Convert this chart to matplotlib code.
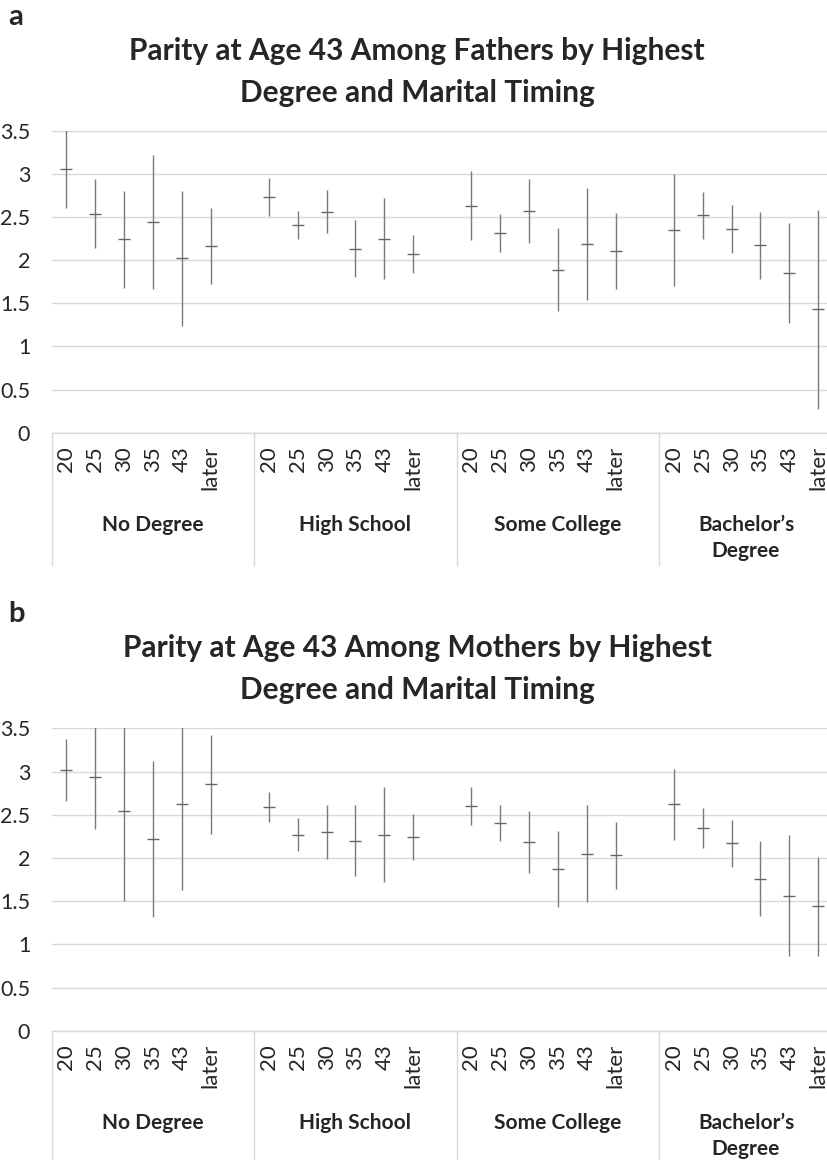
import numpy as np
import matplotlib
matplotlib.use("Agg")
import matplotlib.pyplot as plt
import matplotlib.transforms as mtransforms

plt.rcParams['font.family'] = ['Lato', 'DejaVu Sans']

# Categories
timing_labels = ['20', '25', '30', '35', '43', 'later']
degree_labels = ['No Degree', 'High School', 'Some College', 'Bachelor\u2019s\nDegree']

# Fathers: mean parity and half-width of the interval, one row per degree
fathers_mean = [
    [3.06, 2.54, 2.24, 2.44, 2.02, 2.16],
    [2.73, 2.41, 2.56, 2.13, 2.25, 2.07],
    [2.63, 2.31, 2.57, 1.89, 2.19, 2.11],
    [2.35, 2.52, 2.36, 2.17, 1.85, 1.43],
]
fathers_err = [
    [0.46, 0.40, 0.56, 0.78, 0.78, 0.44],
    [0.22, 0.16, 0.25, 0.33, 0.47, 0.22],
    [0.40, 0.22, 0.37, 0.48, 0.65, 0.44],
    [0.65, 0.27, 0.28, 0.39, 0.58, 1.15],
]

# Mothers
mothers_mean = [
    [3.02, 2.94, 2.54, 2.22, 2.62, 2.85],
    [2.59, 2.27, 2.30, 2.20, 2.27, 2.24],
    [2.60, 2.40, 2.18, 1.87, 2.05, 2.03],
    [2.62, 2.35, 2.17, 1.76, 1.56, 1.44],
]
mothers_err = [
    [0.36, 0.61, 1.04, 0.90, 0.99, 0.57],
    [0.17, 0.19, 0.31, 0.41, 0.55, 0.27],
    [0.22, 0.21, 0.36, 0.44, 0.56, 0.39],
    [0.41, 0.23, 0.27, 0.43, 0.70, 0.57],
]

W, H = 827, 1160
GRID = '#d9d9d9'
BAR = '#7a7a7a'
TXT = '#262626'
SLOTS = 7  # six timing categories plus an empty slot between degree groups


def draw_panel(ax, means, errs):
    n_groups = len(means)
    xs, ys, es, labels = [], [], [], []
    for g in range(n_groups):
        for i in range(len(timing_labels)):
            xs.append(g * SLOTS + i)
            ys.append(means[g][i])
            es.append(errs[g][i])
            labels.append(timing_labels[i])
    xs = np.array(xs)
    ys = np.array(ys)
    es = np.array(es)

    ax.set_xlim(-0.5, (n_groups - 1) * SLOTS + len(timing_labels) - 0.5)
    ax.set_ylim(0, 3.5)
    ax.set_yticks(np.arange(0, 3.51, 0.5))
    ax.set_yticklabels(['0', '0.5', '1', '1.5', '2', '2.5', '3', '3.5'])
    ax.grid(axis='y', color=GRID, lw=1.0)
    ax.set_axisbelow(True)
    for s in ['top', 'right', 'left']:
        ax.spines[s].set_visible(False)
    ax.spines['bottom'].set_color(GRID)
    ax.spines['bottom'].set_linewidth(1.0)
    ax.tick_params(axis='y', length=0, pad=15.5, labelsize=15.5, labelcolor=TXT)
    ax.set_xticks(xs)
    ax.set_xticklabels(labels, rotation=90)
    ax.tick_params(axis='x', length=0, pad=9.5, labelsize=16, labelcolor=TXT)

    ax.vlines(xs, ys - es, ys + es, color=BAR, lw=1.0)
    ax.plot(xs, ys, linestyle='none', marker='_', ms=9, mew=1.0, color='#666666')

    # group separators and degree labels below the axis
    trans = mtransforms.blended_transform_factory(ax.transData, ax.transAxes)
    for g in range(n_groups + 1):
        x = g * SLOTS - 0.5
        if g == n_groups:
            x = (n_groups - 1) * SLOTS + len(timing_labels) - 0.5
        ax.plot([x, x], [0, -132 / 302], transform=trans, color=GRID,
                lw=1.0, clip_on=False)
    for g in range(n_groups):
        start = g * SLOTS - 0.5
        end = start + (SLOTS if g < n_groups - 1 else len(timing_labels))
        ax.text((start + end) / 2, -82 / 302, degree_labels[g], transform=trans,
                ha='center', va='top', fontsize=15, fontweight='bold',
                color=TXT, linespacing=1.38)


fig = plt.figure(figsize=(W / 100, H / 100), dpi=100)

ax_a = fig.add_axes([51.7 / W, 1 - 432.7 / H, (832.8 - 51.7) / W, 302 / H])
draw_panel(ax_a, fathers_mean, fathers_err)
ax_b = fig.add_axes([51.7 / W, 1 - 1030.7 / H, (832.8 - 51.7) / W, 302.4 / H])
draw_panel(ax_b, mothers_mean, mothers_err)

title_lines = [
    ['Parity at Age 43 Among Fathers by Highest', 'Degree and Marital Timing'],
    ['Parity at Age 43 Among Mothers by Highest', 'Degree and Marital Timing'],
]
for k, (letter, lines) in enumerate(zip(['a', 'b'], title_lines)):
    off = k * 597
    fig.text(8 / W, 1 - (25 + off) / H, letter, ha='left', va='baseline',
             fontsize=21, fontweight='bold', color=TXT)
    for j, line in enumerate(lines):
        fig.text(417 / W, 1 - (60 + 42 * j + off) / H, line, ha='center',
                 va='baseline', fontsize=21.5, fontweight='bold', color=TXT)

fig.savefig('out.png', dpi=100)
